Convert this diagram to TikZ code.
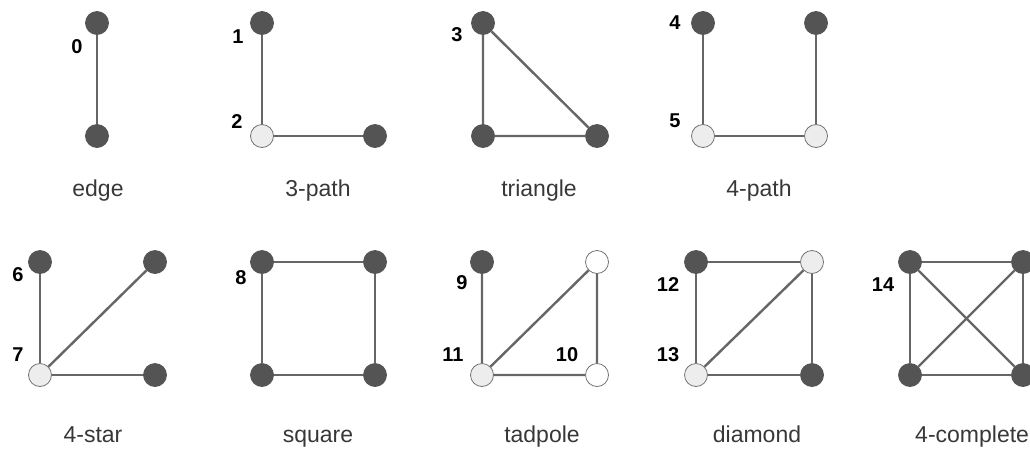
\documentclass[tikz,border=0pt]{standalone}
\usepackage{fontspec}
\setmainfont{Liberation Sans}
\begin{document}
\begin{tikzpicture}[x=1pt,y=-1pt,
  dk/.style={circle,fill=black!67,draw=black!67,line width=0.8pt,minimum size=23pt,inner sep=0pt},
  lt/.style={circle,fill=black!7,draw=black!55,line width=0.8pt,minimum size=23pt,inner sep=0pt},
  wt/.style={circle,fill=white,draw=black!55,line width=0.8pt,minimum size=23pt,inner sep=0pt},
  ed/.style={draw=black!60,line width=2.4pt},
  num/.style={font=\fontsize{20}{20}\selectfont\bfseries,inner sep=0pt},
  captxt/.style={font=\fontsize{23}{23}\selectfont,color=black!78,inner sep=0pt,anchor=base}]
\useasboundingbox (0,0) rectangle (1030,448);
% edge
\node[dk] (a1) at (97,23) {};
\node[dk] (a2) at (97,136) {};
\node[num] (l0) at (77,47) {0};
\node[captxt] (c1) at (98,196) {edge};
% 3-path
\node[dk] (b1) at (262,23) {};
\node[lt] (b2) at (262,136) {};
\node[dk] (b3) at (375,136) {};
\node[num] (l1) at (238,37) {1};
\node[num] (l2) at (237,122) {2};
\node[captxt] (c2) at (318,196) {3-path};
% triangle
\node[dk] (t1) at (483,23) {};
\node[dk] (t2) at (483,136) {};
\node[dk] (t3) at (597,136) {};
\node[num] (l3) at (457,35) {3};
\node[captxt] (c3) at (539,196) {triangle};
% 4-path
\node[dk] (p1) at (703,23) {};
\node[lt] (p2) at (703,136) {};
\node[lt] (p3) at (816,136) {};
\node[dk] (p4) at (816,23) {};
\node[num] (l4) at (675,23) {4};
\node[num] (l5) at (675,121) {5};
\node[captxt] (c4) at (759,196) {4-path};
% 4-star
\node[dk] (s1) at (40,262) {};
\node[lt] (s2) at (40,375) {};
\node[dk] (s3) at (155,262) {};
\node[dk] (s4) at (155,375) {};
\node[num] (l6) at (18,275) {6};
\node[num] (l7) at (18,355) {7};
\node[captxt] (c5) at (93,442) {4-star};
% square
\node[dk] (q1) at (262,262) {};
\node[dk] (q2) at (375,262) {};
\node[dk] (q3) at (262,375) {};
\node[dk] (q4) at (375,375) {};
\node[num] (l8) at (241,278) {8};
\node[captxt] (c6) at (318,442) {square};
% tadpole
\node[dk] (d1) at (482,262) {};
\node[lt] (d2) at (482,375) {};
\node[wt] (d3) at (597,262) {};
\node[wt] (d4) at (597,375) {};
\node[num] (l9) at (462,283) {9};
\node[num] (l11) at (453,355) {11};
\node[num] (l10) at (567,355) {10};
\node[captxt] (c7) at (542,442) {tadpole};
% diamond
\node[dk] (m1) at (696,262) {};
\node[lt] (m2) at (812,262) {};
\node[lt] (m3) at (696,375) {};
\node[dk] (m4) at (812,375) {};
\node[num] (l12) at (668,285) {12};
\node[num] (l13) at (668,355) {13};
\node[captxt] (c8) at (757,442) {diamond};
% 4-complete
\node[dk] (k1) at (910,262) {};
\node[dk] (k2) at (1023,262) {};
\node[dk] (k3) at (910,375) {};
\node[dk] (k4) at (1023,375) {};
\node[num] (l14) at (883,285) {14};
\node[captxt,anchor=base west] (c9) at (915,442) {4-complete};
% edges
\draw[ed] (a1) -- (a2);
\draw[ed] (b1) -- (b2) -- (b3);
\draw[ed] (t1) -- (t2) -- (t3) -- (t1);
\draw[ed] (p1) -- (p2) -- (p3) -- (p4);
\draw[ed] (s1) -- (s2) -- (s4);
\draw[ed] (s2) -- (s3);
\draw[ed] (q1) -- (q2) -- (q4) -- (q3) -- (q1);
\draw[ed] (d1) -- (d2) -- (d4) -- (d3) -- (d2);
\draw[ed] (m1) -- (m2) -- (m4) -- (m3) -- (m1);
\draw[ed] (m3) -- (m2);
\draw[ed] (k1) -- (k2) -- (k4) -- (k3) -- (k1);
\draw[ed] (k1) -- (k4);
\draw[ed] (k2) -- (k3);
\end{tikzpicture}
\end{document}
